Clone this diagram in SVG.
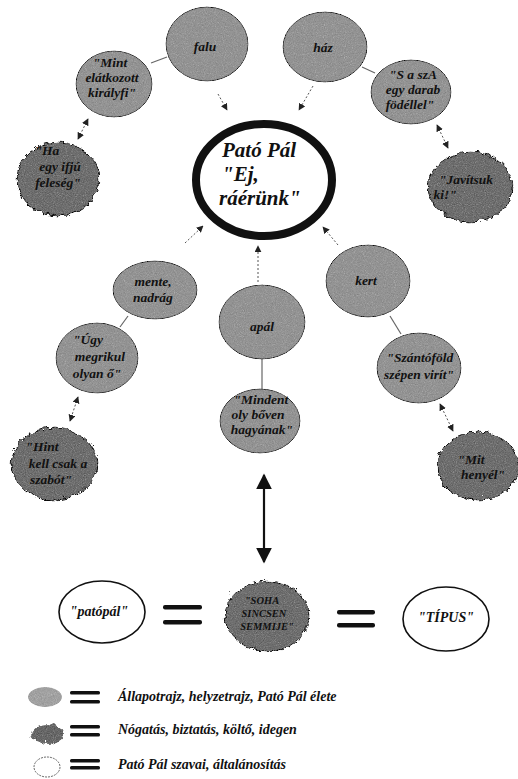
<svg xmlns="http://www.w3.org/2000/svg" width="518" height="779" viewBox="0 0 518 779">
<style>
text{font-family:"Liberation Serif","Times New Roman",Times,serif;font-weight:bold;font-style:italic;fill:#111;text-anchor:middle}
.s{font-size:13.5px}
.big{font-size:21px;text-anchor:start}
.lg{font-size:14px;text-anchor:start}
.w{font-size:14px}
.c{font-size:10.5px}
.light{fill:#a7a7a7;stroke:#6a6a6a;stroke-width:1}
.dark{fill:#8a8a8a;stroke:#555;stroke-width:1}
.white{fill:#fff;stroke:#111;stroke-width:1.6}
.ln{stroke:#666;stroke-width:1.2;fill:none}
.da{stroke:#555;stroke-width:1;stroke-dasharray:2 2;fill:none}
.eq{fill:#111}
</style>
<defs>
<filter id="grain" x="-10%" y="-10%" width="120%" height="120%">
<feTurbulence type="fractalNoise" baseFrequency="0.9" numOctaves="2" seed="4" result="n"/>
<feColorMatrix in="n" type="saturate" values="0" result="g"/>
<feComposite in="SourceGraphic" in2="g" operator="arithmetic" k1="0" k2="1" k3="0.45" k4="-0.22" result="m"/>
<feComposite in="m" in2="SourceAlpha" operator="in"/>
</filter>
<filter id="rough" x="-15%" y="-15%" width="130%" height="130%">
<feTurbulence type="turbulence" baseFrequency="0.12" numOctaves="1" seed="7" result="w"/>
<feDisplacementMap in="SourceGraphic" in2="w" scale="6" xChannelSelector="R" yChannelSelector="G" result="d"/>
<feTurbulence type="fractalNoise" baseFrequency="0.9" numOctaves="2" seed="2" result="n"/>
<feColorMatrix in="n" type="saturate" values="0" result="g"/>
<feComposite in="d" in2="g" operator="arithmetic" k1="0" k2="1" k3="0.45" k4="-0.22" result="m"/>
<feComposite in="m" in2="d" operator="in"/>
</filter>
<marker id="ah" viewBox="0 0 10 10" refX="9" refY="5" markerWidth="7" markerHeight="7" markerUnits="userSpaceOnUse" orient="auto-start-reverse">
<path d="M0,0 L10,5 L0,10 z" fill="#222"/>
</marker>
<marker id="bh" viewBox="0 0 10 10" refX="9" refY="5" markerWidth="16" markerHeight="16" markerUnits="userSpaceOnUse" orient="auto-start-reverse">
<path d="M0,0 L10,5 L0,10 z" fill="#111"/>
</marker>
</defs>

<g id="connectors">
<line class="ln" x1="167" y1="57" x2="151" y2="63"/>
<line class="da" x1="88" y1="119" x2="78" y2="139" marker-start="url(#ah)" marker-end="url(#ah)"/>
<line class="da" x1="218" y1="94" x2="227" y2="110" marker-end="url(#ah)"/>
<line class="ln" x1="362" y1="67" x2="375" y2="73"/>
<line class="da" x1="437" y1="125" x2="448" y2="148" marker-start="url(#ah)" marker-end="url(#ah)"/>
<line class="da" x1="313" y1="86" x2="299" y2="110" marker-end="url(#ah)"/>
<line class="da" x1="185" y1="243" x2="203" y2="226" marker-end="url(#ah)"/>
<line class="ln" x1="128" y1="316" x2="120" y2="327"/>
<line class="da" x1="78" y1="397" x2="70" y2="421" marker-start="url(#ah)" marker-end="url(#ah)"/>
<line class="da" x1="258" y1="282" x2="258" y2="246" marker-end="url(#ah)"/>
<line class="ln" x1="262" y1="359" x2="262" y2="390"/>
<line class="da" x1="338" y1="245" x2="323" y2="227" marker-end="url(#ah)"/>
<line class="ln" x1="390" y1="316" x2="401" y2="334"/>
<line class="da" x1="440" y1="404" x2="453" y2="431" marker-start="url(#ah)" marker-end="url(#ah)"/>
<line x1="264" y1="475" x2="264" y2="562" stroke="#111" stroke-width="2.2" marker-start="url(#bh)" marker-end="url(#bh)"/>
</g>

<g id="center">
<ellipse cx="264" cy="180" rx="68" ry="56" fill="#fff" stroke="#111" stroke-width="8"/>
<text class="big" x="222" y="157">Pató Pál</text>
<text class="big" x="222" y="181">"Ej,</text>
<text class="big" x="219" y="205">ráérünk"</text>
</g>

<g id="falu">
<ellipse class="light" cx="207" cy="44" rx="41" ry="37" filter="url(#grain)"/>
<text class="s" x="205" y="51">falu</text>
</g>
<g id="mint">
<ellipse class="light" cx="114" cy="84" rx="38" ry="33" filter="url(#grain)"/>
<text class="s" x="110" y="67">"Mint</text>
<text class="s" x="112" y="82">elátkozott</text>
<text class="s" x="112" y="97">királyfi"</text>
</g>
<g id="ha">
<ellipse class="dark" cx="56" cy="177" rx="41" ry="37" filter="url(#rough)"/>
<text class="s" x="47" y="155">"Ha</text>
<text class="s" x="60" y="171">egy ifjú</text>
<text class="s" x="58" y="187">feleség"</text>
</g>
<g id="haz">
<ellipse class="light" cx="325" cy="47" rx="42" ry="35" filter="url(#grain)"/>
<text class="s" x="323" y="52">ház</text>
</g>
<g id="saszA">
<ellipse class="light" cx="411" cy="92" rx="40" ry="32" filter="url(#grain)"/>
<text class="s" x="413" y="79">"S a szA</text>
<text class="s" x="413" y="94">egy darab</text>
<text class="s" x="410" y="109">födéllel"</text>
</g>
<g id="javitsuk">
<ellipse class="dark" cx="468" cy="185" rx="42" ry="35" filter="url(#rough)"/>
<text class="s" x="466" y="184">"Javítsuk</text>
<text class="s" x="445" y="199">ki!"</text>
</g>
<g id="mente">
<ellipse class="light" cx="155" cy="290" rx="42" ry="29" filter="url(#grain)"/>
<text class="s" x="153" y="286">mente,</text>
<text class="s" x="153" y="302">nadrág</text>
</g>
<g id="ugy">
<ellipse class="light" cx="97" cy="358" rx="41" ry="35" filter="url(#grain)"/>
<text class="s" x="88" y="344">"Úgy</text>
<text class="s" x="100" y="361">megrikul</text>
<text class="s" x="97" y="378">olyan ő"</text>
</g>
<g id="hint">
<ellipse class="dark" cx="52" cy="462" rx="43" ry="36" filter="url(#rough)"/>
<text class="s" x="42" y="451">"Hint</text>
<text class="s" x="58" y="468">kell csak a</text>
<text class="s" x="51" y="484">szabót"</text>
</g>
<g id="apal">
<ellipse class="light" cx="262" cy="322" rx="43" ry="37" filter="url(#grain)"/>
<text class="s" x="262" y="331">apál</text>
</g>
<g id="mindent">
<ellipse class="light" cx="260" cy="421" rx="40" ry="32" filter="url(#grain)"/>
<text class="s" x="261" y="404">"Mindent</text>
<text class="s" x="258" y="419">oly bőven</text>
<text class="s" x="262" y="434">hagyának"</text>
</g>
<g id="kert">
<ellipse class="light" cx="368" cy="281" rx="42" ry="36" filter="url(#grain)"/>
<text class="s" x="366" y="285">kert</text>
</g>
<g id="szantofold">
<ellipse class="light" cx="419" cy="368" rx="42" ry="35" filter="url(#grain)"/>
<text class="s" x="420" y="362">"Szántóföld</text>
<text class="s" x="419" y="379">szépen virít"</text>
</g>
<g id="mit">
<ellipse class="dark" cx="476" cy="464" rx="41" ry="34" filter="url(#rough)"/>
<text class="s" x="471" y="464">"Mit</text>
<text class="s" x="483" y="479">henyél"</text>
</g>

<g id="patopal">
<ellipse class="white" cx="102" cy="612" rx="43" ry="31"/>
<text class="w" x="99" y="616">"patópál"</text>
</g>
<g id="eq1">
<rect class="eq" x="163" y="605" width="39" height="4.5" rx="2"/>
<rect class="eq" x="163" y="620" width="39" height="4.5" rx="2"/>
</g>
<g id="soha">
<ellipse class="dark" cx="265" cy="614" rx="42" ry="35" filter="url(#rough)"/>
<text class="c" x="262" y="604">"SOHA</text>
<text class="c" x="264" y="617">SINCSEN</text>
<text class="c" x="267" y="630">SEMMIJE"</text>
</g>
<g id="eq2">
<rect class="eq" x="337" y="610" width="38" height="4.5" rx="2"/>
<rect class="eq" x="337" y="623" width="38" height="4.5" rx="2"/>
</g>
<g id="tipus">
<ellipse class="white" cx="446" cy="619" rx="43" ry="32"/>
<text class="w" x="446" y="622">"TÍPUS"</text>
</g>

<g id="legend">
<ellipse cx="45" cy="697" rx="17" ry="10" fill="#b3b3b3" filter="url(#grain)"/>
<rect class="eq" x="70" y="691" width="30" height="3.5" rx="1.5"/>
<rect class="eq" x="70" y="700" width="30" height="3.5" rx="1.5"/>
<text class="lg" x="118" y="701">Állapotrajz, helyzetrajz, Pató Pál élete</text>
<ellipse cx="45" cy="732" rx="16" ry="10" fill="#858585" filter="url(#rough)"/>
<rect class="eq" x="70" y="725" width="30" height="3.5" rx="1.5"/>
<rect class="eq" x="70" y="733" width="30" height="3.5" rx="1.5"/>
<text class="lg" x="118" y="734">Nógatás, biztatás, költő, idegen</text>
<ellipse cx="47" cy="767" rx="13" ry="10" fill="#fff" stroke="#444" stroke-width="0.8" stroke-dasharray="2 1"/>
<rect class="eq" x="70" y="759" width="30" height="3.5" rx="1.5"/>
<rect class="eq" x="70" y="766" width="30" height="3.5" rx="1.5"/>
<text class="lg" x="118" y="769">Pató Pál szavai, általánosítás</text>
</g>
</svg>
